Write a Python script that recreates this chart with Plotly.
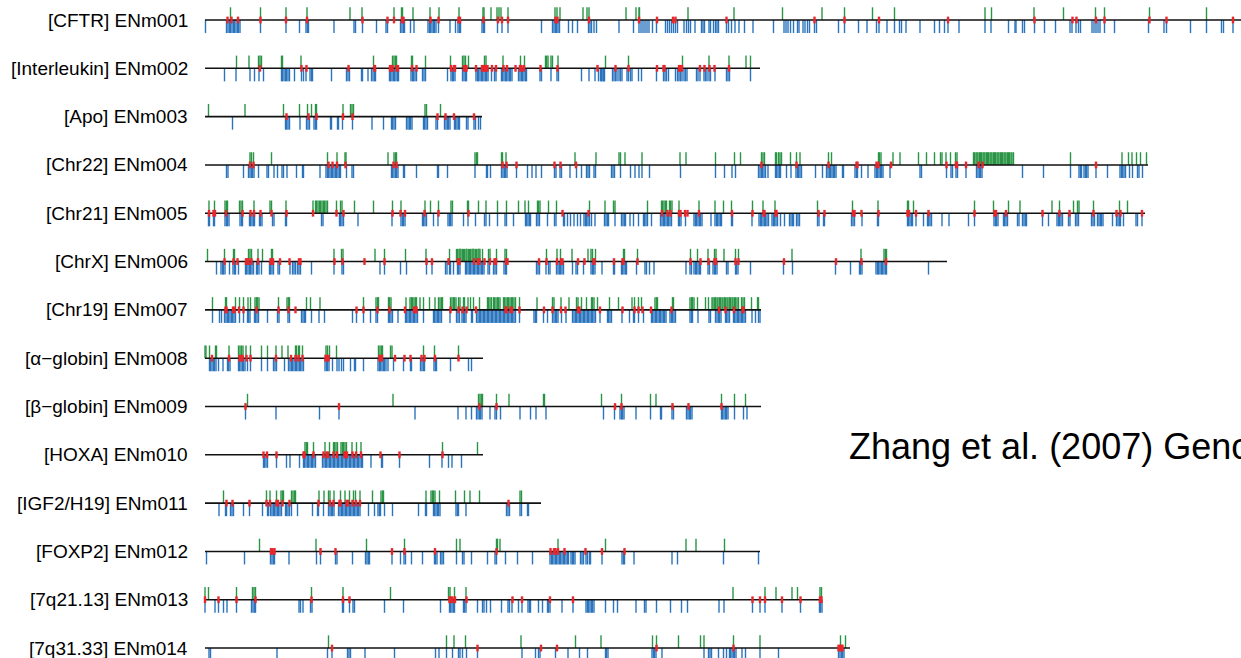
import plotly.graph_objects as go

# ---------------- data (positions in kb from region start) ----------------
REGION_LABELS = [
    "[CFTR] ENm001", "[Interleukin] ENm002", "[Apo] ENm003", "[Chr22] ENm004",
    "[Chr21] ENm005", "[ChrX] ENm006", "[Chr19] ENm007", "[\u03b1\u2212globin] ENm008",
    "[\u03b2\u2212globin] ENm009", "[HOXA] ENm010", "[IGF2/H19] ENm011", "[FOXP2] ENm012",
    "[7q21.13] ENm013", "[7q31.33] ENm014",
]
REGION_LENGTH_KB = [2080, 1110, 554, 1886, 1880, 1484, 1112, 556, 1112, 556, 672, 1110, 1234, 1290]

ENM001_GREEN = [51, 111, 162, 204, 290, 314, 378, 393, 395, 416, 450, 468, 508, 556, 558, 572, 584, 588, 592, 606,
                700, 704, 710, 756, 764, 768, 842, 862, 868, 869, 966, 1058, 1155, 1234, 1279, 1335, 1379, 1560,
                1573, 1658, 1717, 1781, 1799, 1889, 2003]
ENM001_RED = [45, 53, 66, 111, 162, 204, 315, 365, 378, 394, 397, 451, 467, 507, 510, 557, 586, 594, 606, 701, 705,
              768, 868, 904, 936, 941, 1043, 1219, 1279, 1348, 1486, 1659, 1735, 1743, 1782, 1799, 1889, 1923, 2056]
ENM001_BLUE = [1, 43, 46, 49, 51, 54, 57, 59, 62, 65, 67, 70, 111, 162, 189, 202, 205, 207, 258, 298, 301, 315, 343,
               362, 365, 391, 394, 397, 399, 411, 418, 446, 449, 451, 454, 457, 459, 462, 467, 490, 501, 506, 509,
               511, 554, 557, 559, 585, 594, 606, 673, 695, 698, 701, 703, 706, 709, 727, 735, 745, 767, 770, 773,
               778, 783, 828, 857, 868, 872, 876, 880, 884, 888, 895, 903, 921, 925, 929, 933, 937, 941, 945, 958,
               963, 967, 971, 980, 993, 996, 999, 1008, 1011, 1017, 1021, 1024, 1027, 1043, 1047, 1053, 1060, 1068,
               1079, 1096, 1137, 1158, 1162, 1166, 1171, 1177, 1185, 1188, 1196, 1200, 1205, 1209, 1219, 1223, 1267,
               1279, 1307, 1324, 1343, 1348, 1364, 1379, 1389, 1393, 1402, 1430, 1459, 1469, 1479, 1486, 1508, 1560,
               1572, 1607, 1620, 1622, 1635, 1639, 1659, 1679, 1701, 1730, 1734, 1742, 1747, 1751, 1774, 1778, 1782,
               1786, 1790, 1799, 1819, 1887, 1918, 1923, 1971, 2003, 2033, 2037, 2056]

ENM002_GREEN = [63, 88, 107, 110, 113, 153, 155, 192, 337, 375, 378, 381, 383, 413, 415, 441, 491, 515, 518, 521, 527,
                559, 562, 596, 631, 639, 681, 683, 686, 692, 695, 706, 801, 847, 955, 1008, 1048, 1082, 1091]
ENM002_RED = [110, 193, 203, 287, 339, 340, 370, 373, 375, 383, 386, 414, 423, 492, 498, 500, 518, 521, 523, 542, 554,
              557, 559, 562, 565, 574, 582, 597, 604, 621, 630, 633, 638, 671, 705, 785, 821, 847, 904, 917, 919,
              948, 950, 954, 990, 999, 1009, 1019, 1048]
ENM002_BLUE = [39, 62, 90, 99, 108, 117, 153, 155, 158, 161, 163, 166, 169, 179, 193, 197, 202, 210, 213, 215, 253, 283,
               286, 289, 313, 315, 326, 333, 336, 339, 341, 369, 371, 374, 377, 379, 382, 385, 387, 412, 415, 417,
               420, 423, 435, 438, 441, 485, 492, 495, 497, 500, 515, 518, 521, 523, 542, 545, 547, 550, 553, 555,
               558, 561, 563, 566, 573, 579, 582, 593, 595, 598, 601, 603, 606, 609, 611, 614, 627, 630, 633, 635,
               638, 641, 643, 670, 673, 692, 704, 707, 753, 768, 780, 787, 791, 794, 797, 799, 793, 797, 815, 818,
               821, 824, 828, 831, 834, 844, 847, 851, 854, 867, 873, 903, 917, 920, 923, 927, 941, 945, 948, 951,
               954, 958, 961, 964, 983, 986, 990, 998, 1001, 1004, 1008, 1011, 1020, 1043, 1046, 1049, 1091]

ENM003_GREEN = [7, 80, 157, 189, 205, 213, 221, 223, 276, 291, 294, 297, 440, 443, 471]
ENM003_RED = [163, 207, 223, 276, 295, 465, 481, 498, 538]
ENM003_BLUE = [55, 161, 163, 166, 169, 190, 203, 206, 209, 218, 221, 223, 251, 253, 265, 267, 275, 295, 334, 357, 373,
               375, 378, 381, 403, 406, 409, 411, 414, 437, 439, 442, 445, 462, 465, 479, 482, 485, 487, 490, 499,
               501, 504, 507, 509, 523, 526, 538, 541, 547, 551]

ENM004_GREEN = [90, 93, 97, 133, 245, 264, 280, 282, 366, 378, 381, 383, 540, 543, 545, 593, 595, 602, 740, 782, 828,
                831, 840, 874, 950, 962, 1021, 1059, 1071, 1113, 1116, 1119, 1141, 1143, 1147, 1150, 1153, 1171,
                1183, 1190, 1247, 1253, 1347, 1349, 1352, 1376, 1390, 1427, 1443, 1459, 1471, 1474, 1482, 1491,
                1501, 1504, 1537, 1539, 1542, 1544, 1546, 1549, 1551, 1553, 1556, 1558, 1560, 1563, 1565, 1567,
                1570, 1572, 1574, 1577, 1579, 1581, 1584, 1586, 1588, 1591, 1593, 1595, 1598, 1600, 1602, 1605,
                1607, 1609, 1612, 1614, 1617, 1731, 1834, 1847, 1854, 1863, 1871, 1883]
ENM004_RED = [90, 97, 247, 255, 264, 281, 377, 383, 595, 603, 623, 699, 711, 742, 1113, 1183, 1247, 1303, 1305, 1343,
              1347, 1372, 1483, 1502, 1504, 1522, 1547, 1555, 1782]
ENM004_BLUE = [43, 46, 77, 87, 90, 93, 95, 98, 107, 124, 127, 138, 145, 154, 157, 164, 183, 195, 197, 230, 242, 245,
               247, 250, 253, 255, 258, 261, 263, 266, 269, 271, 283, 294, 297, 373, 375, 378, 381, 383, 386, 397,
               399, 423, 465, 467, 485, 540, 563, 565, 571, 593, 596, 599, 601, 604, 623, 645, 654, 662, 673, 699,
               702, 710, 713, 730, 743, 753, 763, 766, 769, 778, 781, 813, 816, 819, 831, 851, 860, 868, 874, 889,
               951, 1021, 1039, 1054, 1061, 1107, 1110, 1113, 1115, 1118, 1121, 1126, 1141, 1143, 1146, 1149, 1151,
               1163, 1172, 1182, 1185, 1187, 1190, 1193, 1221, 1235, 1243, 1246, 1249, 1251, 1254, 1257, 1259, 1262,
               1275, 1277, 1300, 1303, 1305, 1313, 1326, 1340, 1343, 1345, 1348, 1351, 1353, 1356, 1370, 1430, 1433,
               1483, 1492, 1495, 1502, 1505, 1522, 1543, 1546, 1549, 1551, 1554, 1635, 1677, 1731, 1748, 1751, 1753,
               1758, 1761, 1763, 1766, 1782, 1805, 1830, 1833, 1835, 1838, 1841, 1849, 1855, 1865, 1868, 1875]

ENM005_GREEN = [8, 19, 40, 43, 45, 69, 72, 75, 98, 130, 133, 162, 216, 221, 223, 226, 229, 231, 234, 237, 239, 242, 245,
                263, 271, 274, 299, 337, 375, 392, 440, 451, 467, 492, 495, 525, 527, 547, 562, 585, 603, 627, 640,
                647, 665, 667, 670, 687, 703, 769, 800, 817, 820, 885, 913, 915, 918, 921, 923, 929, 931, 934, 948,
                988, 1020, 1037, 1053, 1095, 1116, 1140, 1225, 1295, 1346, 1405, 1407, 1417, 1539, 1577, 1607, 1630,
                1694, 1709, 1737, 1745, 1748, 1777, 1829, 1845]
ENM005_RED = [8, 17, 20, 42, 75, 91, 98, 111, 133, 163, 216, 263, 277, 375, 391, 400, 439, 467, 527, 715, 767, 914,
              925, 931, 948, 951, 960, 965, 988, 1054, 1095, 1117, 1119, 1141, 1143, 1227, 1239, 1296, 1299, 1313,
              1347, 1405, 1408, 1422, 1447, 1539, 1579, 1582, 1602, 1675, 1709, 1729, 1777, 1823, 1831, 1874]
ENM005_BLUE = [7, 9, 17, 19, 40, 43, 45, 48, 70, 73, 75, 89, 91, 94, 97, 99, 109, 111, 114, 135, 138, 161, 163, 233,
               236, 269, 271, 274, 277, 306, 374, 392, 395, 397, 400, 435, 437, 440, 443, 457, 466, 486, 489, 491,
               494, 517, 526, 541, 559, 562, 569, 585, 600, 603, 617, 641, 643, 646, 649, 651, 663, 666, 669, 685,
               699, 702, 717, 719, 725, 731, 738, 745, 751, 758, 761, 763, 766, 769, 773, 780, 799, 802, 805, 807,
               820, 833, 836, 839, 841, 850, 857, 867, 877, 879, 882, 885, 893, 911, 914, 917, 919, 922, 925, 927,
               930, 933, 947, 949, 952, 961, 978, 981, 983, 986, 989, 991, 994, 1012, 1020, 1023, 1025, 1028, 1031,
               1033, 1053, 1055, 1094, 1108, 1111, 1113, 1116, 1119, 1121, 1124, 1127, 1134, 1137, 1139, 1142, 1145,
               1151, 1159, 1169, 1172, 1175, 1177, 1183, 1186, 1189, 1225, 1228, 1237, 1239, 1293, 1296, 1299, 1314,
               1345, 1347, 1405, 1407, 1410, 1413, 1415, 1422, 1437, 1445, 1447, 1450, 1453, 1474, 1488, 1527, 1539,
               1578, 1581, 1583, 1586, 1597, 1599, 1602, 1605, 1625, 1628, 1635, 1638, 1641, 1643, 1675, 1687, 1704,
               1707, 1709, 1712, 1715, 1727, 1730, 1741, 1744, 1747, 1773, 1776, 1779, 1785, 1788, 1791, 1793, 1796,
               1815, 1823, 1826, 1829, 1831, 1837, 1862, 1865, 1874]

ENM006_GREEN = [5, 39, 57, 59, 87, 90, 93, 106, 115, 133, 135, 258, 273, 276, 340, 359, 401, 442, 489, 503, 505, 508,
                510, 512, 515, 517, 519, 522, 524, 527, 529, 531, 534, 536, 538, 541, 543, 546, 548, 550, 555, 567,
                570, 583, 600, 603, 683, 704, 711, 734, 766, 772, 775, 781, 837, 839, 865, 971, 985, 1006, 1019,
                1022, 1038, 1061, 1067, 1174, 1312, 1358, 1361, 1363]
ENM006_RED = [39, 57, 65, 82, 85, 87, 93, 106, 131, 133, 136, 150, 169, 188, 191, 259, 275, 319, 359, 443, 454, 487,
              506, 509, 538, 546, 549, 559, 570, 579, 582, 602, 605, 668, 683, 704, 712, 715, 746, 759, 777, 779, 818,
              835, 837, 865, 971, 991, 1007, 1019, 1022, 1061, 1067, 1158, 1262, 1313, 1362]
ENM006_BLUE = [23, 32, 35, 37, 40, 49, 56, 59, 61, 67, 81, 83, 86, 89, 91, 94, 97, 103, 105, 108, 113, 129, 131, 134,
               137, 146, 149, 170, 175, 178, 181, 185, 188, 191, 213, 258, 274, 277, 350, 359, 391, 403, 443, 454, 481,
               484, 489, 491, 497, 505, 507, 510, 521, 523, 526, 529, 531, 534, 537, 539, 542, 545, 547, 550, 553, 555,
               558, 566, 569, 577, 580, 583, 598, 601, 603, 663, 666, 669, 682, 687, 690, 703, 706, 709, 711, 714,
               717, 735, 742, 745, 757, 772, 775, 777, 780, 794, 817, 819, 833, 835, 838, 841, 843, 863, 880, 883,
               889, 898, 962, 970, 973, 978, 981, 983, 986, 989, 991, 1006, 1009, 1016, 1019, 1021, 1024, 1043, 1046,
               1061, 1063, 1066, 1091, 1157, 1175, 1261, 1291, 1309, 1311, 1314, 1342, 1345, 1347, 1350, 1353, 1355,
               1358, 1361, 1363, 1447]

ENM007_GREEN = [15, 41, 43, 61, 69, 77, 86, 91, 100, 103, 105, 108, 147, 164, 167, 169, 203, 211, 230, 317, 342, 345,
                347, 367, 369, 372, 402, 410, 413, 415, 418, 421, 423, 430, 437, 449, 460, 467, 470, 473, 475, 491,
                494, 497, 499, 502, 507, 510, 517, 519, 526, 531, 537, 549, 565, 567, 570, 573, 577, 579, 582, 585,
                587, 590, 597, 599, 602, 605, 607, 610, 613, 615, 618, 621, 629, 664, 695, 698, 712, 728, 743, 746,
                753, 763, 773, 775, 778, 785, 809, 827, 854, 859, 867, 873, 900, 903, 905, 935, 937, 970, 973, 975,
                978, 985, 1001, 1007, 1014, 1016, 1019, 1021, 1024, 1026, 1029, 1031, 1034, 1036, 1039, 1041, 1044,
                1046, 1049, 1051, 1054, 1056, 1059, 1061, 1064, 1067, 1073, 1076, 1079, 1093, 1105, 1107]
ENM007_RED = [41, 43, 56, 59, 68, 77, 103, 147, 167, 181, 303, 317, 345, 369, 400, 418, 421, 423, 491, 507, 515, 523,
              542, 601, 603, 611, 614, 629, 678, 695, 712, 721, 746, 749, 790, 835, 859, 867, 875, 892, 933, 1028,
              1041, 1058, 1075, 1077]
ENM007_BLUE = [15, 29, 33, 39, 42, 45, 47, 50, 53, 55, 58, 61, 69, 77, 85, 87, 90, 99, 101, 104, 107, 125, 145, 148,
               166, 169, 193, 196, 199, 201, 213, 228, 239, 295, 303, 317, 331, 342, 345, 367, 369, 372, 375, 386, 401,
               403, 406, 409, 411, 414, 417, 419, 422, 425, 437, 457, 459, 462, 465, 467, 470, 473, 490, 503, 506, 509,
               514, 517, 519, 522, 533, 535, 543, 546, 549, 551, 554, 557, 559, 562, 565, 567, 570, 573, 575, 578,
               581, 583, 586, 589, 591, 594, 597, 599, 602, 605, 607, 610, 613, 615, 618, 621, 629, 658, 661, 663,
               677, 685, 695, 698, 701, 703, 706, 713, 722, 735, 738, 741, 743, 746, 749, 751, 754, 757, 759, 762,
               765, 767, 770, 773, 775, 778, 781, 790, 805, 807, 810, 813, 834, 849, 857, 859, 867, 877, 893, 895,
               898, 901, 903, 906, 909, 911, 914, 917, 919, 922, 930, 933, 935, 938, 941, 970, 973, 975, 986, 1008,
               1011, 1021, 1024, 1027, 1029, 1032, 1041, 1043, 1046, 1049, 1057, 1059, 1062, 1065, 1067, 1070, 1073,
               1075, 1078, 1081, 1094, 1101, 1107, 1110]

ENM008_GREEN = [0, 2, 9, 21, 23, 48, 67, 70, 73, 76, 82, 91, 113, 125, 142, 154, 166, 181, 183, 187, 189, 195, 242,
                245, 249, 263, 347, 350, 353, 355, 371, 374, 437, 459, 507]
ENM008_RED = [14, 48, 69, 73, 75, 83, 91, 142, 172, 181, 187, 195, 241, 244, 247, 349, 351, 354, 380, 399, 411, 433,
              439, 460, 507]
ENM008_BLUE = [9, 11, 14, 17, 19, 22, 27, 36, 45, 47, 50, 67, 69, 72, 75, 77, 80, 85, 91, 113, 125, 137, 140, 143, 159,
               167, 170, 173, 175, 178, 181, 183, 186, 189, 191, 194, 197, 240, 243, 245, 248, 255, 264, 268, 273,
               277, 291, 299, 301, 317, 346, 349, 351, 354, 357, 359, 362, 366, 377, 397, 411, 413, 431, 434, 437,
               439, 458, 461, 463, 491, 527, 533]

ENM009_GREEN = [85, 376, 547, 550, 553, 555, 583, 608, 677, 679, 793, 833, 891, 902, 1033, 1059, 1081]
ENM009_RED = [81, 268, 549, 583, 820, 833, 935, 967, 1033]
ENM009_BLUE = [81, 142, 229, 268, 420, 506, 522, 533, 543, 546, 549, 551, 554, 570, 580, 583, 591, 630, 651, 662, 682,
               797, 819, 830, 833, 835, 838, 862, 891, 911, 913, 934, 937, 963, 966, 969, 971, 974, 1033, 1035, 1038,
               1041, 1043, 1046, 1059, 1077, 1084]

ENM010_GREEN = [200, 203, 205, 217, 240, 249, 257, 259, 262, 265, 272, 275, 277, 280, 283, 294, 303, 312, 475, 545]
ENM010_RED = [117, 124, 143, 197, 199, 217, 237, 243, 246, 257, 264, 279, 281, 284, 295, 302, 312, 351, 389, 475]
ENM010_BLUE = [117, 119, 122, 125, 143, 163, 170, 189, 197, 199, 202, 205, 207, 210, 213, 215, 218, 221, 235, 238,
               241, 243, 246, 249, 251, 254, 257, 259, 262, 265, 267, 270, 273, 275, 278, 281, 283, 286, 289, 291,
               294, 297, 299, 302, 305, 307, 310, 313, 315, 332, 353, 355, 389, 449, 474, 487, 494, 513]

ENM011_GREEN = [37, 123, 130, 143, 152, 155, 157, 173, 176, 179, 181, 228, 238, 247, 250, 258, 271, 280, 289, 297,
                301, 310, 335, 352, 355, 357, 442, 452, 455, 457, 460, 469, 501, 519, 530, 549, 630, 633]
ENM011_RED = [43, 55, 89, 123, 130, 143, 146, 155, 169, 227, 250, 257, 269, 271, 283, 286, 295, 302, 310, 607]
ENM011_BLUE = [28, 41, 43, 51, 54, 57, 77, 89, 115, 125, 127, 131, 134, 137, 139, 142, 145, 147, 150, 153, 161, 163,
               166, 169, 173, 185, 215, 225, 227, 237, 247, 250, 253, 255, 258, 267, 270, 273, 275, 278, 281, 283,
               286, 289, 291, 294, 297, 299, 302, 305, 307, 310, 327, 339, 346, 349, 351, 359, 375, 427, 441, 443,
               457, 459, 462, 465, 467, 470, 502, 505, 507, 522, 603, 606, 609, 630, 633, 645, 647]

ENM012_GREEN = [109, 222, 323, 399, 503, 510, 583, 585, 590, 706, 801, 962, 982, 1039]
ENM012_RED = [132, 135, 139, 231, 261, 374, 399, 460, 583, 691, 698, 701, 706, 719, 761, 794, 839]
ENM012_BLUE = [3, 79, 131, 134, 137, 139, 168, 223, 231, 261, 264, 295, 321, 324, 327, 329, 374, 391, 398, 401, 413,
               435, 459, 461, 464, 471, 474, 477, 503, 515, 518, 533, 565, 580, 583, 601, 625, 655, 690, 693, 695,
               698, 701, 703, 706, 709, 711, 714, 717, 719, 722, 725, 727, 732, 735, 737, 740, 751, 754, 757, 762,
               765, 769, 771, 794, 834, 837, 839, 858, 934, 945, 1037, 1107]

ENM013_GREEN = [0, 7, 63, 95, 98, 101, 213, 276, 371, 487, 490, 499, 522, 1056, 1120, 1142, 1174, 1185, 1230, 1233]
ENM013_RED = [0, 27, 63, 101, 213, 276, 289, 489, 492, 495, 500, 523, 615, 634, 690, 736, 1095, 1110, 1120, 1154,
              1191, 1230, 1233]
ENM013_BLUE = [0, 20, 27, 37, 44, 63, 93, 96, 99, 101, 188, 191, 196, 211, 214, 275, 277, 289, 296, 299, 359, 397, 471,
               489, 491, 494, 497, 499, 517, 519, 522, 545, 555, 558, 563, 571, 593, 606, 609, 614, 627, 634, 646,
               649, 651, 667, 675, 685, 687, 690, 714, 736, 762, 765, 767, 770, 773, 775, 778, 801, 817, 825, 862,
               879, 882, 903, 931, 953, 965, 1028, 1038, 1095, 1110, 1120, 1154, 1191, 1229, 1231, 1234]

ENM014_GREEN = [247, 483, 498, 521, 632, 741, 792, 895, 903, 947, 991, 998, 1057, 1110, 1271, 1281]
ENM014_RED = [254, 545, 672, 704, 903, 1057, 1267, 1270, 1273, 1275]
ENM014_BLUE = [8, 11, 144, 245, 254, 285, 288, 291, 320, 379, 461, 468, 483, 495, 507, 510, 515, 523, 545, 634, 661,
               667, 670, 701, 726, 749, 765, 801, 803, 806, 894, 897, 899, 902, 914, 998, 1007, 1010, 1013, 1027,
               1037, 1043, 1049, 1051, 1054, 1057, 1059, 1062, 1074, 1081, 1110, 1147, 1267, 1270, 1273, 1275, 1278]

GREEN_SITES = [ENM001_GREEN, ENM002_GREEN, ENM003_GREEN, ENM004_GREEN, ENM005_GREEN, ENM006_GREEN, ENM007_GREEN,
               ENM008_GREEN, ENM009_GREEN, ENM010_GREEN, ENM011_GREEN, ENM012_GREEN, ENM013_GREEN, ENM014_GREEN]
RED_SITES = [ENM001_RED, ENM002_RED, ENM003_RED, ENM004_RED, ENM005_RED, ENM006_RED, ENM007_RED,
             ENM008_RED, ENM009_RED, ENM010_RED, ENM011_RED, ENM012_RED, ENM013_RED, ENM014_RED]
BLUE_SITES = [ENM001_BLUE, ENM002_BLUE, ENM003_BLUE, ENM004_BLUE, ENM005_BLUE, ENM006_BLUE, ENM007_BLUE,
              ENM008_BLUE, ENM009_BLUE, ENM010_BLUE, ENM011_BLUE, ENM012_BLUE, ENM013_BLUE, ENM014_BLUE]

CITATION = "Zhang et al. (2007) Genome Research"

# ---------------- styling ----------------
C_BLUE = "#2b74bd"
C_GREEN = "#2a9445"
C_RED = "#e8262b"
UP = 0.263      # green tick height (track units)
DOWN = 0.27     # blue tick depth
RED_HALF = 0.07
FONT = "Liberation Sans, Arial, sans-serif"
LEFT_MARGIN = 196
PLOT_WIDTH = 1241 - LEFT_MARGIN


def segments(sites_per_track, y0_off, y1_off):
    xs, ys = [], []
    for i, sites in enumerate(sites_per_track):
        for p in sites:
            xs += [p, p, None]
            ys += [i + y0_off, i + y1_off, None]
    return xs, ys


fig = go.Figure()

bx, by = segments(BLUE_SITES, 0, DOWN)
fig.add_trace(go.Scatter(x=bx, y=by, mode="lines", line=dict(color=C_BLUE, width=1.4),
                         hoverinfo="skip", showlegend=False))
gx, gy = segments(GREEN_SITES, 0, -UP)
fig.add_trace(go.Scatter(x=gx, y=gy, mode="lines", line=dict(color=C_GREEN, width=1.4),
                         hoverinfo="skip", showlegend=False))

lx, ly = [], []
for i, L in enumerate(REGION_LENGTH_KB):
    lx += [0, L, None]
    ly += [i, i, None]
fig.add_trace(go.Scatter(x=lx, y=ly, mode="lines", line=dict(color="#111111", width=1.6),
                         hoverinfo="skip", showlegend=False))

rx, ry = segments(RED_SITES, -RED_HALF, RED_HALF)
fig.add_trace(go.Scatter(x=rx, y=ry, mode="lines", line=dict(color=C_RED, width=2.4),
                         hoverinfo="skip", showlegend=False))

# region labels, right-aligned in the left margin (paper coordinates)
label_x = (190 - LEFT_MARGIN) / PLOT_WIDTH
for i, lab in enumerate(REGION_LABELS):
    fig.add_annotation(x=label_x, y=i, xref="paper", yref="y", text=lab, showarrow=False,
                       xanchor="right", yanchor="middle",
                       font=dict(family=FONT, size=19, color="#000000"))

fig.add_annotation(x=1284, y=8.82, xref="x", yref="y", text=CITATION, showarrow=False,
                   xanchor="left", yanchor="middle",
                   font=dict(family=FONT, size=36, color="#000000"))

fig.update_layout(
    width=1241, height=658,
    margin=dict(l=LEFT_MARGIN, r=0, t=0, b=0),
    paper_bgcolor="white", plot_bgcolor="white",
    xaxis=dict(range=[-18, 2072], visible=False, fixedrange=True),
    yaxis=dict(range=[13.206, -0.414], visible=False, fixedrange=True),
)

fig.write_html("out.html", config={"displayModeBar": False},
               post_script="document.body.style.margin='0px';")
